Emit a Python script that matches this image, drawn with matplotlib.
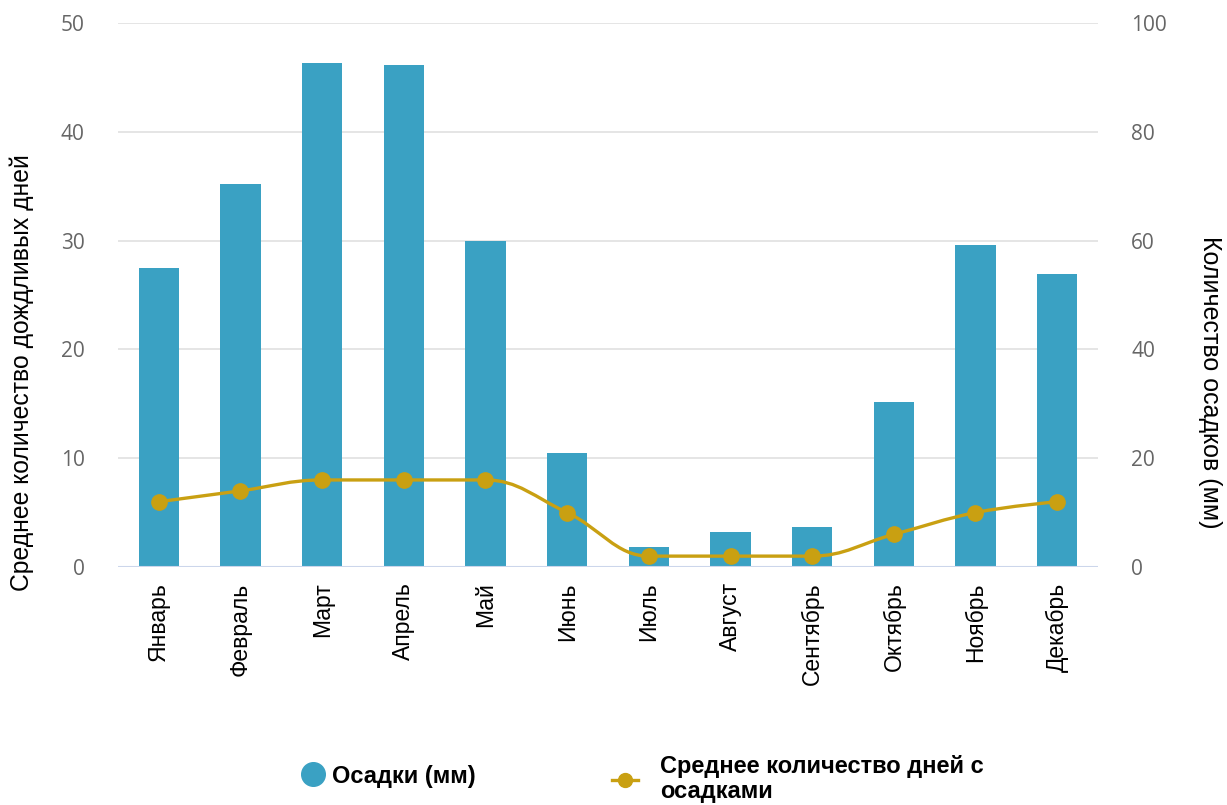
import matplotlib
matplotlib.use("Agg")
import matplotlib.pyplot as plt
from matplotlib.path import Path
from matplotlib.patches import PathPatch
from matplotlib.lines import Line2D

# data
months = ['Январь', 'Февраль', 'Март', 'Апрель', 'Май', 'Июнь',
          'Июль', 'Август', 'Сентябрь', 'Октябрь', 'Ноябрь', 'Декабрь']
precip_mm = [55, 70.4, 92.6, 92.2, 60, 21, 3.6, 6.4, 7.4, 30.4, 59.2, 53.8]
rain_days = [6, 7, 8, 8, 8, 5, 1, 1, 1, 3, 5, 6]

BAR_COLOR = '#3aa1c3'
LINE_COLOR = '#c9a012'
GRID_COLOR = '#e3e3e3'
TICK_COLOR = '#666666'


def spline_path(xs, ys, smoothing=1.5):
    # highcharts-style spline through the points
    n = len(xs)
    lc = [None] * n
    rc = [None] * n
    d = smoothing + 1
    for i in range(1, n - 1):
        x, y = xs[i], ys[i]
        lx, ly = xs[i - 1], ys[i - 1]
        nx, ny = xs[i + 1], ys[i + 1]
        lcx = (smoothing * x + lx) / d
        lcy = (smoothing * y + ly) / d
        rcx = (smoothing * x + nx) / d
        rcy = (smoothing * y + ny) / d
        corr = (rcy - lcy) * (rcx - x) / (rcx - lcx) + y - rcy
        lcy += corr
        rcy += corr
        if lcy > ly and lcy > y:
            lcy = max(ly, y)
            rcy = 2 * y - lcy
        elif lcy < ly and lcy < y:
            lcy = min(ly, y)
            rcy = 2 * y - lcy
        if rcy > ny and rcy > y:
            rcy = max(ny, y)
            lcy = 2 * y - rcy
        elif rcy < ny and rcy < y:
            rcy = min(ny, y)
            lcy = 2 * y - rcy
        lc[i] = (lcx, lcy)
        rc[i] = (rcx, rcy)
    verts = [(xs[0], ys[0])]
    codes = [Path.MOVETO]
    for i in range(1, n):
        c1 = rc[i - 1] if rc[i - 1] else (xs[i - 1], ys[i - 1])
        c2 = lc[i] if lc[i] else (xs[i], ys[i])
        verts += [c1, c2, (xs[i], ys[i])]
        codes += [Path.CURVE4] * 3
    return Path(verts, codes)


fig = plt.figure(figsize=(12.27, 8.05), dpi=100)
ax = fig.add_axes([118 / 1227, 1 - 567 / 805, 980 / 1227, 544 / 805])
ax2 = ax.twinx()
ax.set_zorder(ax2.get_zorder() + 1)
ax.patch.set_visible(False)

x = list(range(len(months)))

# bars: precipitation on right axis
ax2.bar(x, precip_mm, width=0.49, color=BAR_COLOR, zorder=2)
ax2.set_ylim(0, 100)
ax2.set_yticks(range(0, 101, 20))
ax2.grid(axis='y', color=GRID_COLOR, linewidth=1.3, zorder=0)
ax2.set_axisbelow(True)
ax2.axhline(0, color='#ccd6eb', linewidth=1.5, zorder=3)

# line: rainy days on left axis
ax.add_patch(PathPatch(spline_path(x, rain_days), fill=False,
                       edgecolor=LINE_COLOR, linewidth=2.4, zorder=3))
ax.plot(x, rain_days, 'o', color=LINE_COLOR, markersize=11, zorder=4)
ax.set_ylim(0, 50)
ax.set_yticks(range(0, 51, 10))
ax.set_xlim(-0.5, 11.5)

ax.set_xticks(x)
ax.set_xticklabels(months, rotation=90, fontsize=16.5,
                   family='Liberation Sans', color='black')
ax2.set_xticks(x)

for a in (ax, ax2):
    for s in a.spines.values():
        s.set_visible(False)
    a.tick_params(length=0)
ax.tick_params(axis='x', pad=11)
ax.tick_params(axis='y', pad=24, labelcolor=TICK_COLOR, labelsize=15)
ax2.tick_params(axis='y', pad=24, labelcolor=TICK_COLOR, labelsize=15)
for lab in ax.get_yticklabels() + ax2.get_yticklabels():
    lab.set_family('Open Sans')

fig.text(22 / 1227, 1 - 373 / 805, 'Среднее количество дождливых дней',
         rotation=90, ha='center', va='center', fontsize=17.8,
         family='Liberation Sans')
fig.text(1210 / 1227, 1 - 382 / 805, 'Количество осадков (мм)',
         rotation=270, ha='center', va='center', fontsize=18,
         family='Liberation Sans')

# legend: two separate entries so each can sit where the reference has it
leg_font = {'family': 'Liberation Sans', 'weight': 'bold', 'size': 17}
h1 = Line2D([], [], marker='o', linestyle='none', color=BAR_COLOR, markersize=17)
h2 = Line2D([], [], marker='o', color=LINE_COLOR, linewidth=2.4, markersize=10)
leg1 = fig.legend([h1], ['Осадки (мм)'], loc='center left',
                  bbox_to_anchor=(298 / 1227, 1 - 776 / 805), frameon=False,
                  borderpad=0, borderaxespad=0, handlelength=1.25,
                  handletextpad=0.19, prop=leg_font)
leg2 = fig.legend([h2], ['Среднее количество дней с\nосадками'], loc='center left',
                  bbox_to_anchor=(612 / 1227, 1 - 779 / 805), frameon=False,
                  borderpad=0, borderaxespad=0, handlelength=1.1,
                  handletextpad=0.93, prop=leg_font)
for t in leg2.get_texts():
    t.set_linespacing(1.15)

fig.savefig('out.png', dpi=100)
